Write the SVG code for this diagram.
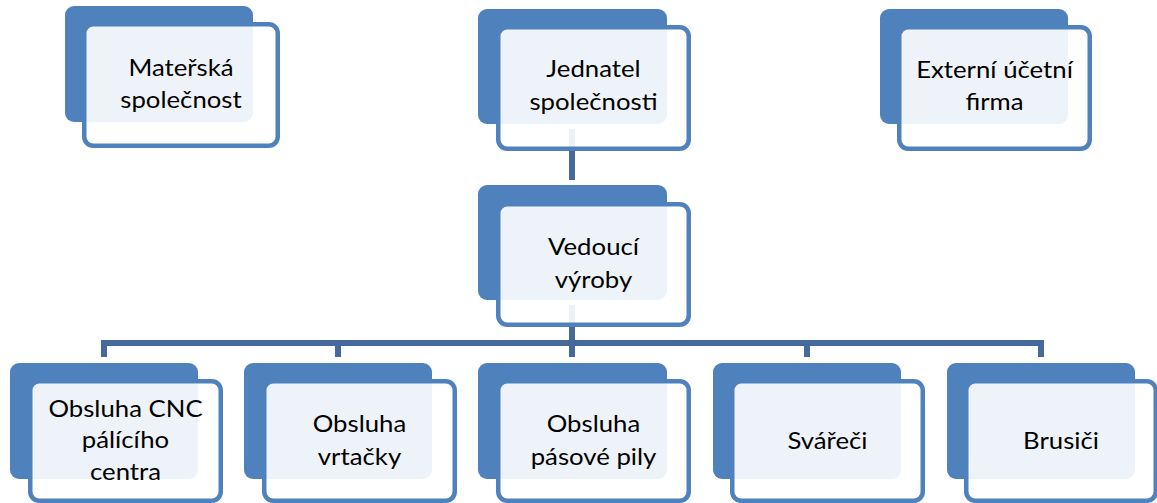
<svg xmlns="http://www.w3.org/2000/svg" width="1157" height="503" viewBox="0 0 1157 503">
  <style>
    .back { fill: #4F81BD; }
    .front { fill: #FFFFFF; fill-opacity: 0.9; stroke: #4F81BD; stroke-width: 4.5; }
    .link { fill: none; stroke: #45699D; stroke-width: 6; stroke-linecap: butt; }
    .label { font-family: Lato, "Liberation Sans", sans-serif; font-size: 23px; fill: #000000; text-anchor: middle; }
  </style>
  <rect width="1157" height="503" fill="#FFFFFF"/>

  <!-- connectors -->
  <g id="connectors">
    <path class="link" d="M572 129 V180"/>
    <path class="link" d="M572 305 V343"/>
    <path class="link" d="M101 343 H1044"/>
    <path class="link" d="M104 343 V357 M338 343 V357 M572 343 V357 M807 343 V357 M1041 343 V357"/>
  </g>

  <!-- top row -->
  <g id="materska">
    <rect class="back" x="65" y="6" width="188" height="116" rx="9"/>
    <rect class="front" x="84.25" y="24.25" width="193.5" height="121.5" rx="9"/>
    <text class="label" transform="translate(181 0) scale(1.12 1)"><tspan x="0" y="76">Mateřská</tspan><tspan x="0" y="108">společnost</tspan></text>
  </g>
  <g id="jednatel">
    <rect class="back" x="478" y="9" width="189" height="115" rx="9"/>
    <rect class="front" x="498.25" y="27.25" width="190.5" height="121.5" rx="9"/>
    <text class="label" transform="translate(593.5 0) scale(1.12 1)"><tspan x="0" y="77">Jednatel</tspan><tspan x="0" y="110">společnosti</tspan></text>
  </g>
  <g id="externi">
    <rect class="back" x="880" y="9" width="188" height="115" rx="9"/>
    <rect class="front" x="899.25" y="27.25" width="190.5" height="121.5" rx="9"/>
    <text class="label" transform="translate(994.5 0) scale(1.12 1)"><tspan x="0" y="78">Externí účetní</tspan><tspan x="0" y="110">firma</tspan></text>
  </g>

  <!-- middle -->
  <g id="vedouci">
    <rect class="back" x="478" y="185" width="189" height="115" rx="9"/>
    <rect class="front" x="498.25" y="204.25" width="190.5" height="120.5" rx="9"/>
    <text class="label" transform="translate(593.5 0) scale(1.12 1)"><tspan x="0" y="255">Vedoucí</tspan><tspan x="0" y="288">výroby</tspan></text>
  </g>

  <!-- bottom row -->
  <g id="cnc">
    <rect class="back" x="10" y="363" width="188" height="116" rx="9"/>
    <rect class="front" x="30.25" y="381.25" width="190.5" height="119.5" rx="9"/>
    <text class="label" transform="translate(125.5 0) scale(1.12 1)"><tspan x="0" y="417">Obsluha CNC</tspan><tspan x="0" y="448">pálícího</tspan><tspan x="0" y="480">centra</tspan></text>
  </g>
  <g id="vrtacky">
    <rect class="back" x="244" y="363" width="188" height="116" rx="9"/>
    <rect class="front" x="264.25" y="381.25" width="190.5" height="119.5" rx="9"/>
    <text class="label" transform="translate(359.5 0) scale(1.12 1)"><tspan x="0" y="432">Obsluha</tspan><tspan x="0" y="465">vrtačky</tspan></text>
  </g>
  <g id="pasove">
    <rect class="back" x="478" y="363" width="189" height="116" rx="9"/>
    <rect class="front" x="498.25" y="381.25" width="190.5" height="119.5" rx="9"/>
    <text class="label" transform="translate(593.5 0) scale(1.12 1)"><tspan x="0" y="432">Obsluha</tspan><tspan x="0" y="465">pásové pily</tspan></text>
  </g>
  <g id="svareci">
    <rect class="back" x="713" y="363" width="188" height="116" rx="9"/>
    <rect class="front" x="732.25" y="381.25" width="190.5" height="119.5" rx="9"/>
    <text class="label" transform="translate(827.5 0) scale(1.12 1)"><tspan x="0" y="449">Svářeči</tspan></text>
  </g>
  <g id="brusici">
    <rect class="back" x="947" y="363" width="188" height="116" rx="9"/>
    <rect class="front" x="966.25" y="381.25" width="189.5" height="119.5" rx="9"/>
    <text class="label" transform="translate(1061 0) scale(1.12 1)"><tspan x="0" y="449">Brusiči</tspan></text>
  </g>
</svg>
